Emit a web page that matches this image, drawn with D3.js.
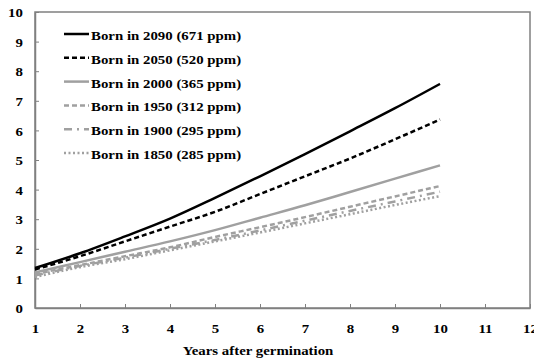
<!DOCTYPE html>
<html>
<head>
<meta charset="utf-8">
<script src="https://cdn.jsdelivr.net/npm/d3@7"></script>
<style>
  html, body { margin: 0; padding: 0; background: #fff; }
  svg text { font-family: "Liberation Serif", "Times New Roman", serif; font-weight: bold; fill: #000; }
</style>
</head>
<body>
<svg id="chart" width="534" height="363"></svg>
<script>
// Plant size over the first ten years, by birth year (CO2 level)
const years = [1, 2, 3, 4, 5, 6, 7, 8, 9, 10];
const born2090 = [1.35, 1.85, 2.42, 3.02, 3.72, 4.45, 5.2, 5.97, 6.75, 7.57];
const born2050 = [1.3, 1.75, 2.25, 2.75, 3.25, 3.85, 4.45, 5.05, 5.7, 6.37];
const born2000 = [1.2, 1.55, 1.9, 2.25, 2.63, 3.05, 3.47, 3.92, 4.37, 4.82];
const born1950 = [1.15, 1.45, 1.75, 2.05, 2.4, 2.73, 3.07, 3.42, 3.77, 4.12];
const born1900 = [1.1, 1.42, 1.7, 2.0, 2.3, 2.62, 2.95, 3.28, 3.6, 3.93];
const born1850 = [1.05, 1.38, 1.65, 1.95, 2.25, 2.55, 2.86, 3.17, 3.48, 3.78];
const seriesLabels = [
  "Born in 2090 (671 ppm)", "Born in 2050 (520 ppm)", "Born in 2000 (365 ppm)",
  "Born in 1950 (312 ppm)", "Born in 1900 (295 ppm)", "Born in 1850 (285 ppm)"
];
const xTicks = [1, 2, 3, 4, 5, 6, 7, 8, 9, 10, 11, 12];
const yTicks = [0, 1, 2, 3, 4, 5, 6, 7, 8, 9, 10];
const xTitle = "Years after germination";

const seriesData = [born2090, born2050, born2000, born1950, born1900, born1850];
const styles = [
  { color: "#000000", dash: null },
  { color: "#000000", dash: "5,3" },
  { color: "#a0a0a0", dash: null },
  { color: "#a0a0a0", dash: "5,3" },
  { color: "#a0a0a0", dash: "8,5,2,5" },
  { color: "#a0a0a0", dash: "2,2.5" }
];

// Text is set slightly wide (horizontal stretch)
const STRETCH = 1.1;
const FONT = "13.5px";

const svg = d3.select("#chart");
const plot = { left: 35, right: 530, top: 12, bottom: 308 };

const x = d3.scaleLinear().domain([1, 12]).range([plot.left, plot.right]);
const y = d3.scaleLinear().domain([0, 10]).range([plot.bottom, plot.top]);

// Frame
svg.append("rect")
  .attr("x", plot.left).attr("y", plot.top)
  .attr("width", plot.right - plot.left).attr("height", plot.bottom - plot.top)
  .attr("fill", "none").attr("stroke", "#808080").attr("stroke-width", 1.5);

// Axes with inward ticks
const xAxis = svg.append("g").attr("transform", `translate(0,${plot.bottom})`)
  .call(d3.axisBottom(x).tickValues(xTicks).tickSizeInner(-4).tickSizeOuter(0).tickPadding(15).tickFormat(d3.format("d")));
const yAxis = svg.append("g").attr("transform", `translate(${plot.left},0)`)
  .call(d3.axisLeft(y).tickValues(yTicks).tickSizeInner(-4).tickSizeOuter(0).tickPadding(11).tickFormat(d3.format("d")));

[xAxis, yAxis].forEach(g => {
  g.select(".domain").attr("stroke", "#808080").attr("stroke-width", 1.5);
  g.selectAll(".tick line").attr("stroke", "#808080").attr("stroke-width", 1);
  g.selectAll(".tick text")
    .style("font-size", FONT)
    .style("font-family", "Liberation Serif, serif")
    .style("font-weight", "bold")
    .attr("fill", "#000")
    .attr("transform", `scale(${STRETCH},1)`);
});
yAxis.selectAll(".tick text").attr("dy", "0.35em");

// Axis title
svg.append("text")
  .attr("transform", `translate(258,355) scale(${STRETCH},1)`)
  .attr("text-anchor", "middle").style("font-size", FONT)
  .text(xTitle);

// Series lines
const line = d3.line().x((d, i) => x(years[i])).y(d => y(d)).curve(d3.curveMonotoneX);
const order = [5, 4, 3, 2, 1, 0];
order.forEach(k => {
  svg.append("path")
    .datum(seriesData[k])
    .attr("d", line)
    .attr("fill", "none")
    .attr("stroke", styles[k].color)
    .attr("stroke-width", 2.5)
    .attr("stroke-dasharray", styles[k].dash);
});

// Legend
const legend = svg.append("g");
seriesLabels.forEach((lab, k) => {
  const yy = 34 + k * 23.8;
  legend.append("line")
    .attr("x1", 64).attr("x2", 89).attr("y1", yy).attr("y2", yy)
    .attr("stroke", styles[k].color).attr("stroke-width", 2.5)
    .attr("stroke-dasharray", styles[k].dash);
  legend.append("text")
    .attr("transform", `translate(91,${yy + 6}) scale(${STRETCH},1)`)
    .style("font-size", FONT)
    .text(lab);
});
</script>
</body>
</html>
